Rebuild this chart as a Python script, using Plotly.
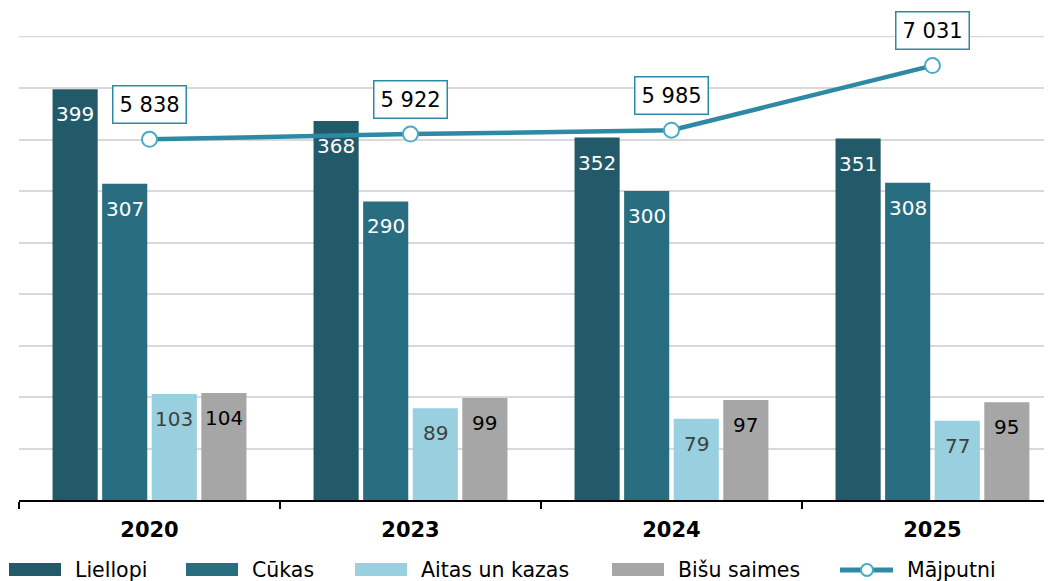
import plotly.graph_objects as go

years = ["2020", "2023", "2024", "2025"]
liellopi = [399, 368, 352, 351]
cukas = [307, 290, 300, 308]
aitas = [103, 89, 79, 77]
bisu = [104, 99, 97, 95]
majputni = [5838, 5922, 5985, 7031]

bar_series = [
    ("Liellopi", liellopi, "#235a69", "white"),
    ("Cūkas", cukas, "#296e80", "white"),
    ("Aitas un kazas", aitas, "#99d0df", "#404040"),
    ("Bišu saimes", bisu, "#a6a6a6", "black"),
]
LINE_COLOR = "#2e89a4"
FONT = "DejaVu Sans"
Y_MAX = 450

# page has an 8px body margin; figure is laid out in window pixels minus that
OX, OY = 8, 8
FW, FH = 1052 - OX, 581 - OY
L, T, B = 19 - OX, 36 - OY, 81
ph = FH - T - B
pw = FW - L
BARGAP = 0.24
slot_px = pw / 3.958 * (1 - BARGAP) / 4

fig = go.Figure()
for j, (name, vals, color, tcolor) in enumerate(bar_series):
    fig.add_trace(go.Bar(
        x=years, y=vals, name=name,
        marker=dict(color=color, line=dict(width=0)),
        showlegend=False, hoverinfo="x+y+name",
    ))
    for i, v in enumerate(vals):
        fig.add_annotation(
            x=i, y=v, xshift=(j - 1.5) * slot_px, yshift=-25,
            text=str(v), showarrow=False, yanchor="middle",
            font=dict(size=20, color=tcolor, family=FONT),
        )

fig.add_trace(go.Scatter(
    x=years, y=majputni, name="Mājputni", yaxis="y2",
    mode="lines+markers",
    line=dict(color=LINE_COLOR, width=4.5),
    marker=dict(size=15, color="white", line=dict(color="#4aaac8", width=2)),
    showlegend=False,
))

for i, v in enumerate(majputni):
    fig.add_annotation(
        x=i, y=v, yref="y2", yshift=35,
        text=f"{v:,}".replace(",", " "),
        showarrow=False,
        font=dict(size=21, color="black", family=FONT),
        bgcolor="white", bordercolor=LINE_COLOR, borderwidth=1.5, borderpad=6,
    )

# top gridline at the edge of the range
fig.add_shape(type="line", xref="paper", yref="y", x0=0, x1=1, y0=Y_MAX, y1=Y_MAX,
              line=dict(color="#d9d9d9", width=1.5), layer="below")


# custom legend (wide swatches like the original)
def px_x(p):
    return (p - OX - L) / pw


def px_y(p):
    return (FH - B - (p - OY)) / ph


legend_x = [9, 186, 355, 612]
for (name, _, color, _), x0 in zip(bar_series, legend_x):
    fig.add_shape(type="rect", xref="paper", yref="paper",
                  x0=px_x(x0), x1=px_x(x0 + 52), y0=px_y(576), y1=px_y(563),
                  fillcolor=color, line=dict(width=0))
    fig.add_annotation(xref="paper", yref="paper", x=px_x(x0 + 64), y=px_y(570),
                       xanchor="left", yanchor="middle", showarrow=False,
                       text=name, font=dict(size=20.5, color="black", family=FONT))
fig.add_shape(type="line", xref="paper", yref="paper",
              x0=px_x(840), x1=px_x(893), y0=px_y(570), y1=px_y(570),
              line=dict(color=LINE_COLOR, width=5))
fig.add_shape(type="circle", xref="paper", yref="paper",
              x0=px_x(861), x1=px_x(873), y0=px_y(576), y1=px_y(564),
              fillcolor="white", line=dict(color="#4aaac8", width=2))
fig.add_annotation(xref="paper", yref="paper", x=px_x(905), y=px_y(570),
                   xanchor="left", yanchor="middle", showarrow=False,
                   text="Mājputni", font=dict(size=20.5, color="black", family=FONT))

fig.update_layout(
    width=FW, height=FH,
    margin=dict(l=L, r=0, t=T, b=B),
    paper_bgcolor="white", plot_bgcolor="white",
    font=dict(family=FONT, size=20, color="black"),
    barmode="group", bargap=BARGAP, bargroupgap=0.09,
    xaxis=dict(
        type="category", range=[-0.5, 3.458],
        showline=True, linecolor="black", linewidth=1.5,
        ticks="outside", tickson="boundaries", ticklen=7, tickcolor="black", tickwidth=1.5,
        ticklabelstandoff=10,
        tickfont=dict(size=21, family=FONT, color="black", weight="bold"),
        showgrid=False,
    ),
    yaxis=dict(
        range=[0, 450.6], dtick=50, showgrid=True, gridcolor="#d9d9d9", gridwidth=1.5,
        showticklabels=False, zeroline=False, showline=False,
    ),
    yaxis2=dict(
        range=[0, 7510], overlaying="y", side="right", visible=False, showgrid=False,
    ),
)

fig.write_html("out.html")
